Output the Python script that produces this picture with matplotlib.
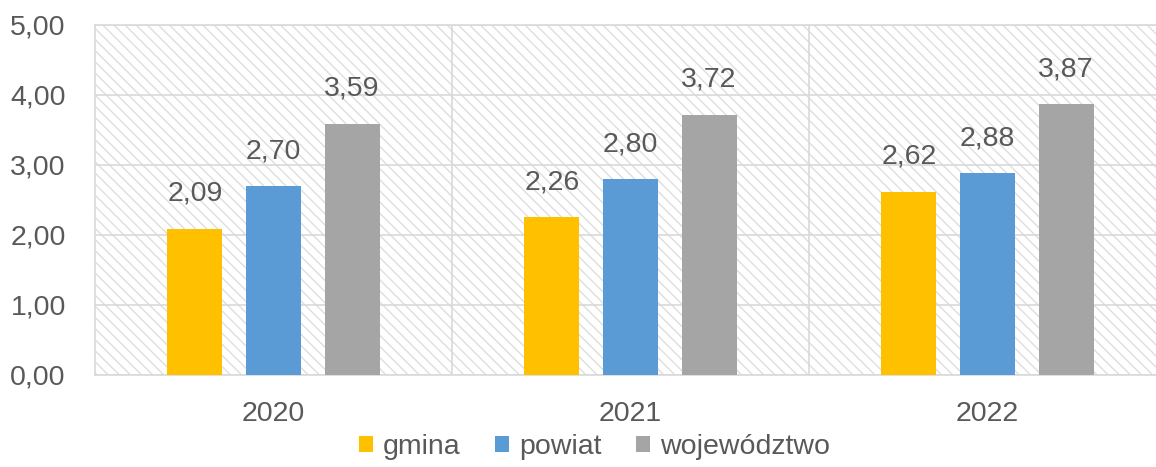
import numpy as np
import matplotlib
matplotlib.use("Agg")
import matplotlib.pyplot as plt

plt.rcParams["font.family"] = ["Liberation Sans", "DejaVu Sans"]
plt.rcParams["hatch.linewidth"] = 1.0

years = ["2020", "2021", "2022"]
series_names = ["gmina", "powiat", "województwo"]
gmina = [2.09, 2.26, 2.62]
powiat = [2.70, 2.80, 2.88]
wojewodztwo = [3.59, 3.72, 3.87]
yticks = [0, 1, 2, 3, 4, 5]

colors = ["#FFC000", "#5B9BD5", "#A5A5A5"]
text_color = "#595959"
grid_color = "#D9D9D9"
fs = 20.5


def fmt(v, nd=2):
    return f"{v:.{nd}f}".replace(".", ",")


fig = plt.figure(figsize=(11.56, 4.67), dpi=100)
ax = fig.add_axes([95 / 1156, 92 / 467, 1071 / 1156, 350 / 467])

# hatched plot area
ax.patch.set_facecolor("white")
ax.patch.set_hatch("\\\\\\")
ax.patch.set_edgecolor("#DEDEDE")

x = np.arange(len(years))
width = 0.154
step = 0.22
for i, (name, vals) in enumerate(zip(series_names, [gmina, powiat, wojewodztwo])):
    pos = x + (i - 1) * step
    bars = ax.bar(pos, vals, width, color=colors[i], label=name, zorder=3)
    for b, v in zip(bars, vals):
        ax.annotate(fmt(v), (b.get_x() + b.get_width() / 2, v),
                    xytext=(0, 20), textcoords="offset points",
                    ha="center", va="baseline", fontsize=fs, color=text_color)

ax.set_xlim(-0.5, 2.5)
ax.set_ylim(0, 5)
ax.set_yticks(yticks)
ax.set_yticklabels([fmt(t) for t in yticks])
ax.set_xticks(x)
ax.set_xticklabels(years)
ax.set_xticks([0.5, 1.5], minor=True)
ax.tick_params(axis="both", which="both", length=0, labelsize=fs,
               labelcolor=text_color)
ax.tick_params(axis="y", pad=21)
ax.tick_params(axis="x", pad=19)

ax.grid(axis="y", color=grid_color, linewidth=1.2, zorder=1)
ax.grid(axis="x", which="minor", color=grid_color, linewidth=1.2, zorder=1)
ax.grid(axis="x", which="major", visible=False)
ax.set_axisbelow(True)

for side in ["top", "left", "bottom"]:
    ax.spines[side].set_color(grid_color)
    ax.spines[side].set_linewidth(1.2)
ax.spines["right"].set_visible(False)

fig.legend(loc="lower center", bbox_to_anchor=(0.514, -0.04), ncol=3,
           frameon=False, fontsize=fs, handlelength=0.5, handleheight=0.5,
           handletextpad=0.35, columnspacing=1.2, labelcolor=text_color)

fig.savefig("out.png", dpi=100)
